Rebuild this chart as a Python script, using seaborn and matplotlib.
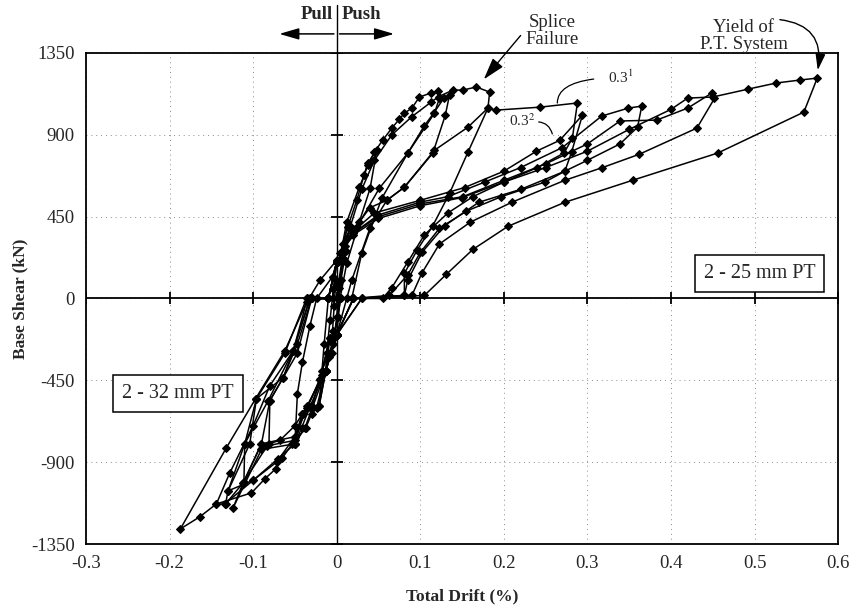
import pandas as pd
import numpy as np
import matplotlib
matplotlib.use("Agg")
import matplotlib.pyplot as plt
import seaborn as sns

# Hysteresis cycles (total drift in %, base shear in kN)
c01_drift = [0.0, 0.002, 0.006, 0.010, 0.012, 0.008, 0.003, 0.000, -0.002, -0.004, -0.006, -0.005, -0.003, -0.001]
c01_shear = [0, 80, 200, 290, 330, 220, 60, -100, -190, -250, -300, -180, -40, 100]

c02_drift = [0.002, 0.007, 0.013, 0.016, 0.011, 0.005, 0.001, -0.004, -0.009, -0.013, -0.012, -0.008, -0.004, 0.0]
c02_shear = [200, 300, 391, 400, 260, 100, -100, -215, -320, -400, -300, -120, 50, 200]

c03_drift = [0.005, 0.013, 0.024, 0.037, 0.048, 0.040, 0.027, 0.012, 0.004, 0.0, -0.008, -0.013, -0.021,
             -0.018, -0.015, -0.010, -0.004, 0.0]
c03_shear = [250, 391, 540, 744, 815, 606, 420, 193, 0, -200, -300, -397, -590, -420, -250, 0, 120, 200]

c04_drift = [0.005, 0.012, 0.027, 0.033, 0.037, 0.045, 0.055, 0.066, 0.075, 0.081, 0.090, 0.099, 0.113, 0.121,
             0.123, 0.117, 0.085, 0.054, 0.030, 0.018, 0.005, -0.003, -0.013, -0.029, -0.038, -0.050,
             -0.047, -0.041, -0.032, -0.024, -0.005, 0.0]
c04_shear = [250, 420, 612, 678, 733, 804, 870, 937, 986, 1019, 1047, 1108, 1130, 1141,
             1102, 1019, 799, 551, 250, 0, 0, -215, -397, -600, -711, -799,
             -523, -350, -150, 0, 120, 200]

c05_drift = [0.004, 0.024, 0.051, 0.085, 0.105, 0.116, 0.128, 0.135, 0.130, 0.115, 0.081, 0.060, 0.040,
             0.018, 0.012, 0.0, -0.013, -0.035, -0.050, -0.068, -0.081, -0.080, -0.064, -0.052, -0.032,
             -0.005, 0.0]
c05_shear = [250, 391, 606, 799, 950, 1019, 1100, 1120, 1008, 799, 612, 540, 390,
             100, 0, -200, -397, -590, -700, -780, -799, -562, -435, -287, 0,
             0, 200]

c06_drift = [0.005, 0.016, 0.030, 0.045, 0.066, 0.090, 0.113, 0.122, 0.139, 0.151, 0.167, 0.183, 0.181,
             0.157, 0.135, 0.115, 0.096, 0.081, 0.081, 0.030, 0.0, -0.013, -0.024, -0.041, -0.050,
             -0.090, -0.111, -0.110, -0.082, -0.052, -0.035, -0.010, 0.0]
c06_shear = [250, 391, 600, 760, 900, 1000, 1080, 1110, 1146, 1146, 1163, 1135, 1047,
             804, 578, 400, 264, 138, 17, 0, -200, -397, -600, -634, -760,
             -799, -1008, -799, -562, -287, 0, 0, 200]

c07_drift = [0.005, 0.020, 0.040, 0.060, 0.081, 0.117, 0.157, 0.181, 0.191, 0.243, 0.288,
             0.282, 0.272, 0.240, 0.200, 0.163, 0.133, 0.105, 0.085, 0.066, 0.055, 0.020, 0.0,
             -0.018, -0.029, -0.041, -0.050, -0.083, -0.112, -0.133,
             -0.130, -0.104, -0.096, -0.062, -0.036, -0.010, 0.0]
c07_shear = [250, 380, 500, 540, 612, 815, 942, 1047, 1036, 1052, 1075,
             882, 800, 720, 640, 560, 470, 350, 200, 60, 0, 0, -200,
             -400, -590, -634, -780, -810, -1014, -1130,
             -1058, -799, -551, -300, 0, 0, 200]

c08_drift = [0.005, 0.020, 0.045, 0.100, 0.153, 0.200, 0.239, 0.267, 0.294,
             0.281, 0.273, 0.249, 0.197, 0.155, 0.123, 0.100, 0.085, 0.063, 0.020, 0.0,
             -0.013, -0.032, -0.042, -0.050, -0.090, -0.124,
             -0.112, -0.090, -0.080, -0.047, -0.030, -0.010, 0.0]
c08_shear = [250, 370, 470, 540, 610, 700, 810, 870, 1008,
             804, 700, 640, 560, 480, 386, 253, 130, 17, 0, -200,
             -397, -595, -711, -799, -830, -1152,
             -1014, -799, -562, -300, 0, 0, 200]

c09_drift = [0.005, 0.020, 0.050, 0.100, 0.133, 0.177, 0.220, 0.270, 0.317, 0.349, 0.365,
             0.360, 0.339, 0.300, 0.273, 0.220, 0.170, 0.129, 0.102, 0.085, 0.081, 0.020, 0.0,
             -0.008, -0.020, -0.035, -0.050, -0.072, -0.100, -0.130,
             -0.110, -0.096, -0.064, -0.047, -0.030, -0.010, 0.0]
c09_shear = [250, 360, 460, 530, 560, 640, 720, 830, 1003, 1047, 1058,
             942, 850, 760, 700, 600, 529, 400, 253, 100, 17, 0, -200,
             -215, -440, -600, -760, -900, -1000, -1058,
             -799, -551, -435, -250, 0, 0, 200]

c10_drift = [0.005, 0.020, 0.050, 0.100, 0.151, 0.200, 0.250, 0.300, 0.339, 0.383, 0.420, 0.449,
             0.452, 0.431, 0.362, 0.318, 0.273, 0.210, 0.160, 0.123, 0.102, 0.090, 0.020, 0.0,
             -0.008, -0.020, -0.040, -0.050, -0.070, -0.100, -0.134, -0.144,
             -0.128, -0.100, -0.080, -0.052, -0.032, -0.010, 0.0]
c10_shear = [250, 360, 450, 520, 560, 650, 740, 850, 976, 981, 1047, 1130,
             1100, 937, 793, 720, 650, 530, 420, 300, 140, 17, 0, -200,
             -215, -450, -634, -799, -880, -1000, -1130, -1130,
             -960, -700, -480, -287, 0, 0, 200]

c11_drift = [0.005, 0.020, 0.050, 0.100, 0.150, 0.200, 0.250, 0.300, 0.350, 0.400, 0.420, 0.450,
             0.492, 0.526, 0.554, 0.575,
             0.559, 0.456, 0.354, 0.273, 0.205, 0.163, 0.131, 0.105, 0.030, 0.0,
             -0.008, -0.013, -0.021, -0.030, -0.037, -0.053, -0.065, -0.073, -0.086, -0.102,
             -0.144, -0.164, -0.187,
             -0.132, -0.097, -0.062, -0.036, -0.020, 0.0]
c11_shear = [250, 350, 440, 510, 555, 640, 720, 810, 930, 1040, 1102, 1108,
             1151, 1185, 1201, 1212,
             1025, 800, 650, 529, 397, 270, 132, 17, 0, -200,
             -215, -397, -590, -634, -711, -799, -876, -937, -992, -1069,
             -1130, -1201, -1267,
             -821, -551, -287, -22, 100, 210]

cycles = [
    (c01_drift, c01_shear), (c02_drift, c02_shear), (c03_drift, c03_shear),
    (c04_drift, c04_shear), (c05_drift, c05_shear), (c06_drift, c06_shear),
    (c07_drift, c07_shear), (c08_drift, c08_shear), (c09_drift, c09_shear),
    (c10_drift, c10_shear), (c11_drift, c11_shear),
]

x_ticks = [-0.3, -0.2, -0.1, 0, 0.1, 0.2, 0.3, 0.4, 0.5, 0.6]
x_labels = ["-0.3", "-0.2", "-0.1", "0", "0.1", "0.2", "0.3", "0.4", "0.5", "0.6"]
y_ticks = [-1350, -900, -450, 0, 450, 900, 1350]
y_labels = ["-1350", "-900", "-450", "0", "450", "900", "1350"]

rows = []
for i, (d, s) in enumerate(cycles):
    for k in range(len(d)):
        rows.append({"cycle": i, "step": k, "drift": d[k], "shear": s[k]})
df = pd.DataFrame(rows)

sns.set_style("white")
plt.rcParams['font.family'] = ['Liberation Serif', 'DejaVu Serif']
plt.rcParams['mathtext.fontset'] = 'stix'

fig = plt.figure(figsize=(8.57, 6.14), dpi=100)
ax = fig.add_axes([0.1003, 0.114, 0.8777, 0.7997])

# dotted grid
for xv in x_ticks:
    ax.axvline(xv, color='0.55', lw=0.7, ls=(0, (1, 4)), zorder=0)
for yv in y_ticks:
    ax.axhline(yv, color='0.55', lw=0.7, ls=(0, (1, 4)), zorder=0)

# zero axes
ax.axhline(0, color='black', lw=1.3, zorder=1)
ax.plot([0, 0], [-1350, 1615], color='black', lw=1.0, clip_on=False, zorder=1)
ax.plot(x_ticks, [0] * len(x_ticks), ls='none', marker='|', ms=9, mew=1.3, color='black', zorder=1)
ax.plot([0] * len(y_ticks), y_ticks, ls='none', marker='_', ms=9, mew=1.3, color='black', zorder=1)

sns.lineplot(data=df, x="drift", y="shear", units="cycle", estimator=None, sort=False,
             color="black", lw=1.1, marker="D", markersize=4.5, markeredgecolor="black",
             ax=ax, zorder=3)

ax.set_xlim(-0.3, 0.6)
ax.set_ylim(-1350, 1350)
ax.set_xticks(x_ticks)
ax.set_xticklabels(x_labels)
ax.set_yticks(y_ticks)
ax.set_yticklabels(y_labels)
ax.tick_params(length=0, labelsize=13.5, pad=8)
ax.set_xlabel("Total Drift (%)", fontsize=12.5, fontweight='bold', labelpad=12)
ax.set_ylabel("Base Shear (kN)", fontsize=12.5, fontweight='bold', labelpad=2)
for sp in ax.spines.values():
    sp.set_color('black')
    sp.set_linewidth(1.3)

# Pull | Push
ax.text(-0.004, 1560, "Pull", ha='right', va='center', fontsize=13.5, fontweight='bold')
ax.text(0.006, 1560, "Push", ha='left', va='center', fontsize=13.5, fontweight='bold')
ax.annotate("", xy=(-0.072, 1455), xytext=(0, 1455), annotation_clip=False,
            arrowprops=dict(arrowstyle='-|>,head_width=0.35,head_length=1.2', color='black', lw=1.1))
ax.annotate("", xy=(0.072, 1455), xytext=(0, 1455), annotation_clip=False,
            arrowprops=dict(arrowstyle='-|>,head_width=0.35,head_length=1.2', color='black', lw=1.1))

# Splice failure
ax.annotate("Splice\nFailure", xy=(0.176, 1205), xytext=(0.258, 1470), ha='center', va='center',
            fontsize=13.5, linespacing=1.0, annotation_clip=False,
            arrowprops=dict(arrowstyle='-|>,head_width=0.3,head_length=1.0', color='black', lw=1.0,
                            shrinkA=2, shrinkB=0, relpos=(0.0, 0.55)))

# Yield of P.T. System
ax.text(0.487, 1445, "Yield of\nP.T. System", ha='center', va='center', fontsize=13.5, linespacing=1.0)
ax.annotate("", xy=(0.575, 1240), xytext=(0.527, 1535), annotation_clip=False,
            arrowprops=dict(arrowstyle='-|>,head_width=0.3,head_length=1.0', color='black', lw=1.0,
                            connectionstyle="arc3,rad=-0.55"))

# cycle labels
ax.annotate(r"0.3$^1$", xy=(0.264, 1075), xytext=(0.34, 1215), ha='center', va='center', fontsize=11,
            arrowprops=dict(arrowstyle='-', color='black', lw=0.9, shrinkA=8, shrinkB=0,
                            connectionstyle="angle3,angleA=0,angleB=90"))
ax.annotate(r"0.3$^2$", xy=(0.258, 905), xytext=(0.222, 980), ha='center', va='center', fontsize=11,
            arrowprops=dict(arrowstyle='-', color='black', lw=0.9, shrinkA=0, shrinkB=0,
                            relpos=(1.0, 0.4), connectionstyle="arc3,rad=-0.4"))

# boxes
box = dict(boxstyle='square,pad=0.45', fc='white', ec='black', lw=1.1)
ax.text(0.506, 138, "2 - 25 mm PT", ha='center', va='center', fontsize=14.5, bbox=box, zorder=5)
ax.text(-0.19, -523, "2 - 32 mm PT", ha='center', va='center', fontsize=14.5, bbox=box, zorder=5)

fig.savefig("out.png", dpi=100)
